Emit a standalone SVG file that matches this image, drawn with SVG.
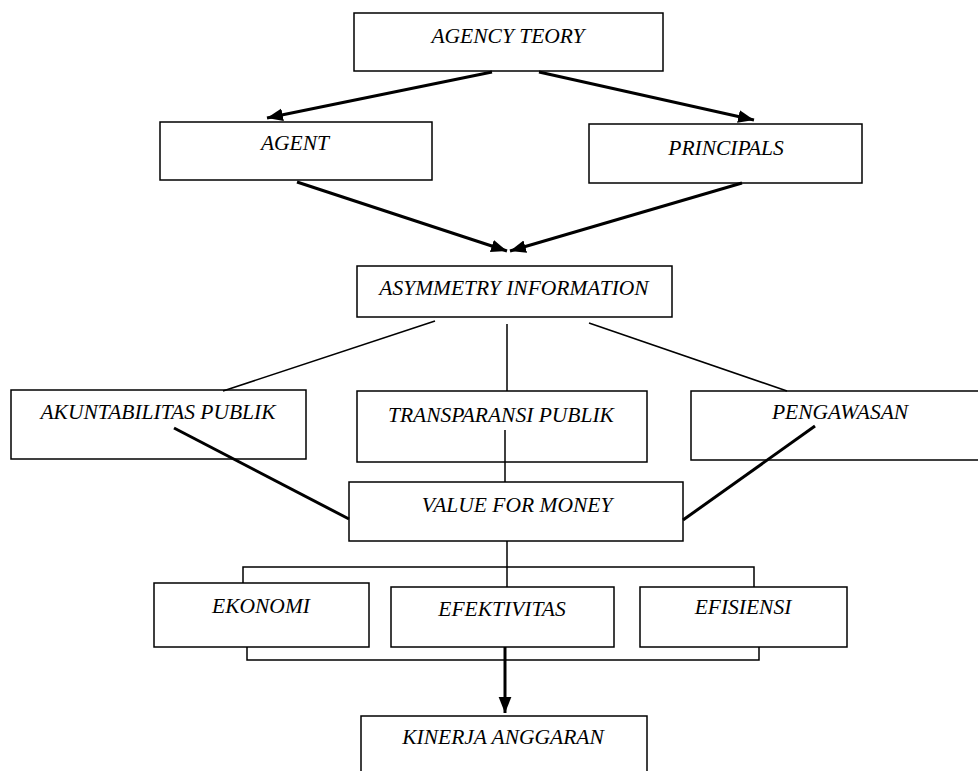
<svg xmlns="http://www.w3.org/2000/svg" width="978" height="771" viewBox="0 0 978 771">
<style>
.box{fill:#fff;stroke:#000;stroke-width:1.5}
.t{font-family:"Liberation Serif","Times New Roman",serif;font-style:italic;font-size:21.5px;fill:#000;text-anchor:middle}
.thick{stroke:#000;stroke-width:3;fill:none}
.thin{stroke:#000;stroke-width:1.5;fill:none}
</style>
<defs>
<marker id="ah" viewBox="0 0 10 10" refX="10" refY="5" markerWidth="5.3" markerHeight="5.3" orient="auto" markerUnits="strokeWidth">
<path d="M0,1 L10,5 L0,9 z" fill="#000"/>
</marker>
</defs>
<rect width="978" height="771" fill="#fff"/>
<g id="n-agency"><rect class="box" x="354" y="13" width="309" height="58"/><text class="t" x="508" y="43">AGENCY TEORY</text></g>
<g id="n-agent"><rect class="box" x="160" y="122" width="272" height="58"/><text class="t" x="295" y="150">AGENT</text></g>
<g id="n-principals"><rect class="box" x="589" y="124" width="273" height="59"/><text class="t" x="726" y="155">PRINCIPALS</text></g>
<g id="n-asym"><rect class="box" x="357" y="266" width="315" height="51"/><text class="t" x="514" y="295">ASYMMETRY INFORMATION</text></g>
<g id="n-akun"><rect class="box" x="11" y="390" width="295" height="69"/><text class="t" x="158" y="419">AKUNTABILITAS PUBLIK</text></g>
<g id="n-trans"><rect class="box" x="357" y="391" width="290" height="71"/><text class="t" x="501" y="422">TRANSPARANSI PUBLIK</text></g>
<g id="n-peng"><rect class="box" x="691" y="391" width="290" height="69"/><text class="t" x="840" y="419">PENGAWASAN</text></g>
<g id="n-vfm"><rect class="box" x="349" y="482" width="334" height="59"/><text class="t" x="517" y="512">VALUE FOR MONEY</text></g>
<g id="n-eko"><rect class="box" x="154" y="583" width="215" height="64"/><text class="t" x="261" y="613">EKONOMI</text></g>
<g id="n-efek"><rect class="box" x="391" y="587" width="223" height="60"/><text class="t" x="502" y="616">EFEKTIVITAS</text></g>
<g id="n-efis"><rect class="box" x="640" y="587" width="207" height="60"/><text class="t" x="743" y="614">EFISIENSI</text></g>
<g id="n-kin"><rect class="box" x="361" y="716" width="286" height="60"/><text class="t" x="503" y="744">KINERJA ANGGARAN</text></g>
<g id="connectors">
<line class="thick" x1="492" y1="72" x2="267" y2="118" marker-end="url(#ah)"/>
<line class="thick" x1="539" y1="72" x2="754" y2="120" marker-end="url(#ah)"/>
<line class="thick" x1="297" y1="182" x2="507" y2="251" marker-end="url(#ah)"/>
<line class="thick" x1="742" y1="183" x2="510" y2="251" marker-end="url(#ah)"/>
<line class="thin" x1="435" y1="321" x2="223" y2="391"/>
<line class="thin" x1="507" y1="324" x2="507" y2="391"/>
<line class="thin" x1="589" y1="323" x2="787" y2="391"/>
<line class="thick" x1="174" y1="428" x2="349" y2="519"/>
<line class="thick" x1="815" y1="426" x2="683" y2="520"/>
<line class="thin" x1="505" y1="430" x2="505" y2="482"/>
<line class="thin" x1="507" y1="541" x2="507" y2="587"/>
<polyline class="thin" points="243,583 243,567 754,567 754,587"/>
<polyline class="thin" points="247,647 247,660 759,660 759,647"/>
<line class="thick" x1="505" y1="647" x2="505" y2="713" marker-end="url(#ah)"/>
</g>
</svg>
